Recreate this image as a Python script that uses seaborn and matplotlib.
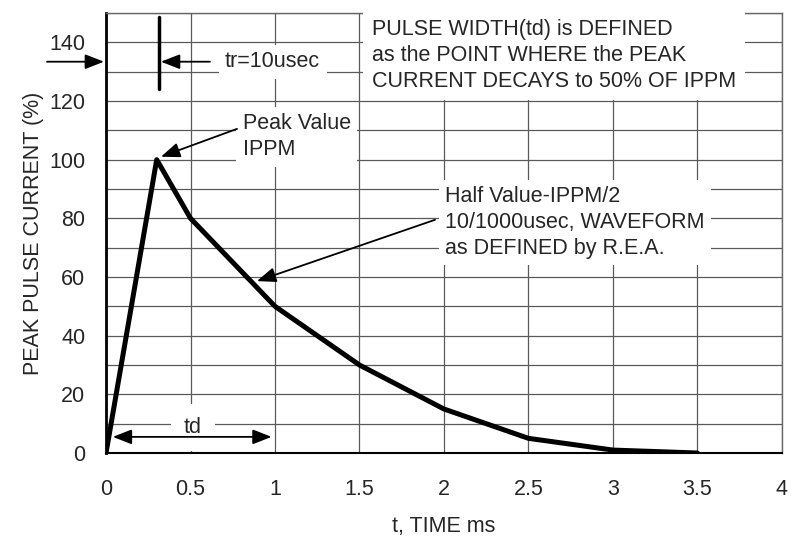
import matplotlib
matplotlib.use("Agg")
import matplotlib.pyplot as plt
import seaborn as sns
import pandas as pd

# waveform points
time_ms = [0, 0.3, 0.5, 1.0, 1.5, 2.0, 2.5, 3.0, 3.5]
current_pct = [0, 100, 80, 50, 30, 15, 5, 1, 0]
x_ticks = [0, 0.5, 1, 1.5, 2, 2.5, 3, 3.5, 4]
x_labels = ['0', '0.5', '1', '1.5', '2', '2.5', '3', '3.5', '4']
y_ticks = [0, 20, 40, 60, 80, 100, 120, 140]

df = pd.DataFrame({'t': time_ms, 'i': current_pct})

sns.set_style('white')
plt.rcParams['font.family'] = ['Liberation Sans', 'DejaVu Sans']
FS = 15.5
LS = 1.3

fig = plt.figure(figsize=(7.93, 5.42), dpi=100)
ax = fig.add_axes([0.1337, 0.1642, 0.8523, 0.8118])

sns.lineplot(data=df, x='t', y='i', color='black', linewidth=3.6, ax=ax, zorder=3)

ax.set_xlim(0, 4)
ax.set_ylim(0, 150)
ax.set_xticks(x_ticks)
ax.set_xticklabels(x_labels)
ax.set_yticks(y_ticks)
ax.set_yticks(range(0, 151, 10), minor=True)
ax.tick_params(axis='both', which='both', labelsize=FS, length=0)
ax.tick_params(axis='x', pad=19)
ax.tick_params(axis='y', pad=15)
ax.grid(True, which='both', axis='y', color='#5a5a5a', linewidth=0.9)
ax.grid(True, which='major', axis='x', color='#5a5a5a', linewidth=0.9)
ax.set_axisbelow(True)
for s in ax.spines.values():
    s.set_color('#666666')
    s.set_linewidth(1.0)
ax.spines['left'].set_linewidth(2.0)
ax.spines['left'].set_color('black')
ax.spines['bottom'].set_linewidth(1.5)
ax.spines['bottom'].set_color('black')

ax.set_xlabel('t, TIME ms', fontsize=FS, labelpad=11)
ax.set_ylabel('PEAK PULSE CURRENT (%)', fontsize=FS, labelpad=4)

box = dict(boxstyle='square,pad=0.3', facecolor='white', edgecolor='none')
head = 'head_length=1.15,head_width=0.45'
arrow = dict(arrowstyle='-|>,' + head, color='black',
             linewidth=1.3, shrinkA=0, shrinkB=0)

# big definition note
ax.text(1.574, 135.5, 'PULSE WIDTH(td) is DEFINED\nas the POINT WHERE the PEAK\nCURRENT DECAYS to 50% OF IPPM',
        fontsize=FS, va='center', ha='left', linespacing=LS,
        bbox=dict(boxstyle='square,pad=0.4', facecolor='white', edgecolor='none'), zorder=4)

# rise time marker
ax.plot([0.314, 0.314], [124, 148.5], color='black', linewidth=2.5, zorder=5)
ax.annotate('', xy=(0.325, 133.4), xytext=(0.615, 133.4), arrowprops=arrow, zorder=5)
ax.text(0.704, 133.4, 'tr=10usec', fontsize=FS, va='center', ha='left', bbox=box, zorder=4)
ax.annotate('', xy=(-0.012, 133.4), xytext=(-0.349, 133.4), arrowprops=arrow,
            annotation_clip=False, zorder=5)

# peak value
ax.text(0.81, 107.8, 'Peak Value\nIPPM', fontsize=FS, va='center', ha='left',
        linespacing=LS, bbox=box, zorder=4)
ax.annotate('', xy=(0.325, 101), xytext=(0.775, 110.5), arrowprops=arrow, zorder=5)

# half value
ax.text(2.006, 78.5, 'Half Value-IPPM/2\n10/1000usec, WAVEFORM\nas DEFINED by R.E.A.',
        fontsize=FS, va='center', ha='left', linespacing=LS, bbox=box, zorder=4)
ax.annotate('', xy=(0.893, 58.6), xytext=(1.947, 79.5), arrowprops=arrow, zorder=5)

# pulse width arrow
ax.annotate('', xy=(0.04, 5.5), xytext=(0.98, 5.5),
            arrowprops=dict(arrowstyle='<|-|>,' + head,
                            color='black', linewidth=1.3, shrinkA=0, shrinkB=0), zorder=5)
ax.text(0.515, 8.8, 'td', fontsize=FS, va='center', ha='center',
        bbox=dict(boxstyle='square,pad=0.6', facecolor='white', edgecolor='none'), zorder=2.5)

fig.savefig('out.png', dpi=100)
